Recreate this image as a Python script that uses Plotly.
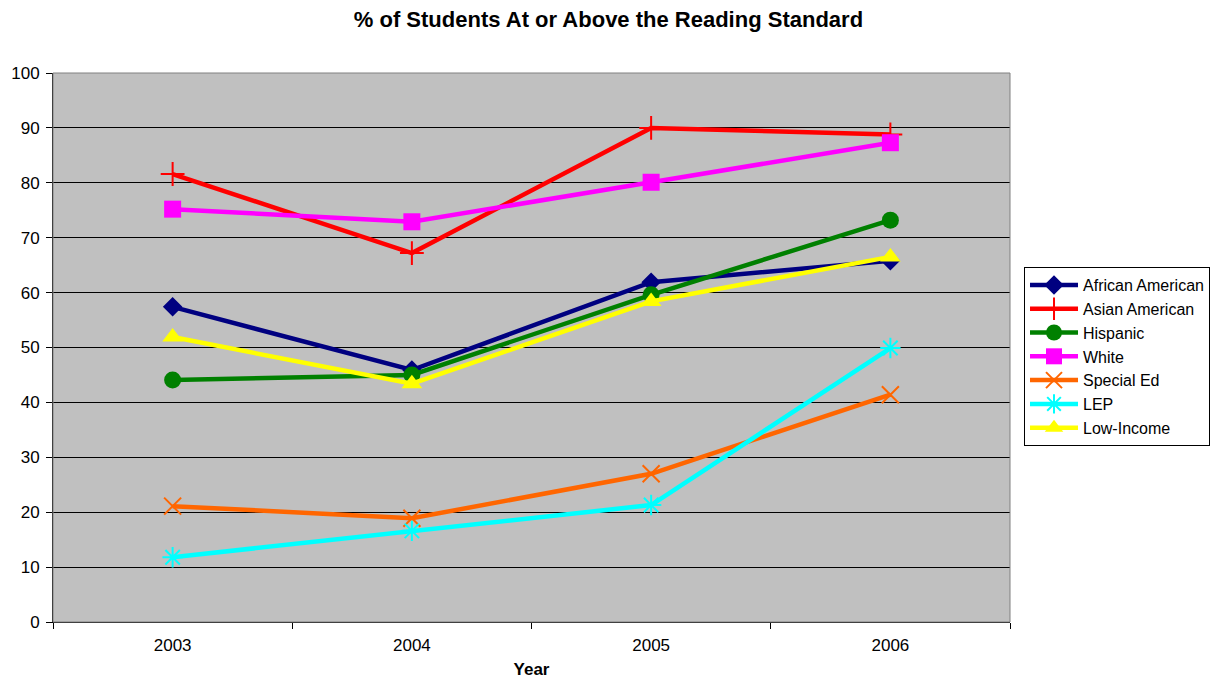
import plotly.graph_objects as go

years = ["2003", "2004", "2005", "2006"]
african_american = [57.4, 45.9, 61.9, 65.8]
asian_american = [81.6, 67.2, 90.0, 88.8]
hispanic = [44.1, 45.0, 59.6, 73.2]
white = [75.2, 72.9, 80.1, 87.3]
special_ed = [21.1, 18.9, 27.0, 41.4]
lep = [11.8, 16.6, 21.3, 49.9]
low_income = [51.9, 43.4, 58.4, 66.5]

series = [
    ("African American", african_american, "#000080", dict(symbol="diamond", size=15)),
    ("Asian American", asian_american, "#FF0000", dict(symbol="cross-thin", size=17, line=dict(width=2, color="#FF0000"))),
    ("Hispanic", hispanic, "#008000", dict(symbol="circle", size=17)),
    ("White", white, "#FF00FF", dict(symbol="square", size=17)),
    ("Special Ed", special_ed, "#FF6600", dict(symbol="x-thin", size=17, line=dict(width=2, color="#FF6600"))),
    ("LEP", lep, "#00FFFF", dict(symbol="asterisk", size=17, line=dict(width=2, color="#00FFFF"))),
    ("Low-Income", low_income, "#FFFF00", dict(symbol="triangle-up", size=18)),
]

xs = list(range(len(years)))
fig = go.Figure()
for name, vals, color, marker in series:
    m = dict(color=color, **marker)
    fig.add_trace(go.Scatter(x=xs, y=vals, name=name, mode="lines+markers",
                             line=dict(color=color, width=4.5), marker=m))

fig.update_layout(
    width=1213, height=671,
    margin=dict(l=45, r=211, t=65, b=57, autoexpand=False),
    paper_bgcolor="white",
    plot_bgcolor="#C0C0C0",
    font=dict(family="Liberation Sans, Arial, sans-serif", size=17, color="black"),
    title=dict(text="<b>% of Students At or Above the Reading Standard</b>",
               x=0.495, xanchor="center", xref="container", yref="container",
               y=0.9836, yanchor="middle", font=dict(size=22)),
    showlegend=True,
    legend=dict(xref="container", yref="container", x=0.8376, xanchor="left",
                y=0.614, yanchor="top",
                bgcolor="white", bordercolor="black", borderwidth=1,
                font=dict(size=16), tracegroupgap=0, itemwidth=48),
    xaxis=dict(range=[-0.5, 3.5], tickvals=xs, ticktext=years, ticks="",
               showgrid=False, zeroline=False, showline=True, linecolor="black", linewidth=1,
               tickfont=dict(size=17), automargin=False, ticklabelstandoff=8,
               minor=dict(tickvals=[-0.5, 0.5, 1.5, 2.5, 3.5], ticks="outside", ticklen=6,
                          tickcolor="black", showgrid=False),
               title=dict(text="<b>Year</b>", font=dict(size=17), standoff=21)),
    yaxis=dict(range=[0, 100], dtick=10, ticks="outside", ticklen=6, tickcolor="black",
               showgrid=True, gridcolor="black", gridwidth=1, zeroline=False,
               showline=True, linecolor="black", linewidth=1, tickfont=dict(size=17),
               automargin=False, ticklabelstandoff=3),
)
fig.add_shape(type="rect", xref="paper", yref="paper", x0=0, y0=0, x1=1, y1=1,
              line=dict(color="#808080", width=1), layer="above")
fig.write_html("out.html")
